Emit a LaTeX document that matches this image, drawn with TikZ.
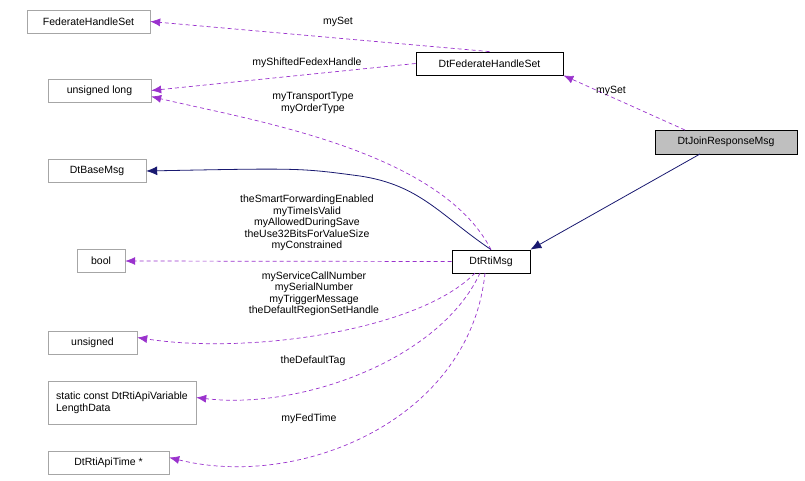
\documentclass[tikz,border=0pt]{standalone}
\usepackage{fontspec}
\setmainfont{Liberation Sans}
\usetikzlibrary{arrows.meta}
\usetikzlibrary{positioning}
\definecolor{edgepurple}{HTML}{9A32CD}
\definecolor{edgenavy}{HTML}{191970}
\tikzset{
  cls/.style={draw=black!35,fill=white,inner xsep=6pt,inner ysep=0pt,minimum height=23pt,align=left,font=\fontsize{10.5}{12}\selectfont},
  main/.style={cls,draw=black,line width=0.8pt},
  use/.style={draw=edgepurple,line width=0.7pt,dash pattern=on 4pt off 3pt,-{Latex[length=10pt,width=8pt]}},
  inh/.style={draw=edgenavy,line width=0.8pt,-{Latex[length=11pt,width=9pt]}},
  lbl/.style={font=\fontsize{10.5}{11.5}\selectfont,align=center,inner sep=0pt},
}
\begin{document}
\begin{tikzpicture}[x=1pt,y=-1pt]
  \useasboundingbox (0,0) rectangle (805,480);
  %CLASSES
  \node[cls,minimum width=123pt] (FHS) at (88.5,21.5) {FederateHandleSet};
  \node[cls,minimum width=103pt] (UL) at (99.5,90.5) {unsigned long};
  \node[cls,minimum width=98pt] (BM) at (97,171) {DtBaseMsg};
  \node[cls,minimum width=48pt] (BO) at (101,261) {bool};
  \node[cls,minimum width=89pt] (UN) at (92.5,342.5) {unsigned};
  \node[cls,minimum width=148pt,minimum height=43pt] (VL) at (122,402.5) {static const DtRtiApiVariable\\LengthData};
  \node[cls,minimum width=121pt] (AT) at (108.5,462.5) {DtRtiApiTime *};
  \node[main,minimum width=147pt] (DFHS) at (489.5,63.5) {DtFederateHandleSet};
  \node[main,fill=black!25,minimum width=142pt,minimum height=24pt] (JRM) at (726,142) {DtJoinResponseMsg};
  \node[main,minimum width=78pt] (RM) at (491,261.5) {DtRtiMsg};
  %INHERITANCE
  \draw[inh] (700,154) -- (RM.north east);
  \draw[inh] (RM.north) .. controls (440,215) and (420,185) .. (360,176) .. controls (300,168) .. (BM.east);
  %MEMBERS
  \draw[use] (DFHS.north) -- (FHS.east);
  \node[lbl] (LFS) at (338,22) {mySet};
  \draw[use] (DFHS.west) -- (UL.east);
  \node[lbl] (LSF) at (307,63) {myShiftedFedexHandle};
  \draw[use] (685,130) -- (DFHS.south east);
  \node[lbl] (LJS) at (611,91) {mySet};
  \draw[use] (RM.north) .. controls (440,150) and (250,120) .. ([yshift=-6pt]UL.east);
  \node[lbl] (LTT) at (313,103) {myTransportType\\myOrderType};
  \draw[use] (RM.west) -- (BO.east);
  \node[lbl] (LBO) at (307,223) {theSmartForwardingEnabled\\myTimeIsValid\\myAllowedDuringSave\\theUse32BitsForValueSize\\myConstrained};
  \draw[use] (475,273) .. controls (420,330) and (250,355) .. ([yshift=5pt]UN.east);
  \node[lbl] (LUN) at (314,294) {myServiceCallNumber\\mySerialNumber\\myTriggerMessage\\theDefaultRegionSetHandle};
  \draw[use] (480,273) .. controls (440,360) and (300,410) .. ([yshift=5pt]VL.east);
  \node[lbl] (LVL) at (313,361) {theDefaultTag};
  \draw[use] (485,273) .. controls (470,420) and (300,490) .. ([yshift=5pt]AT.east);
  \node[lbl] (LAT) at (309,419) {myFedTime};
\end{tikzpicture}
\end{document}
